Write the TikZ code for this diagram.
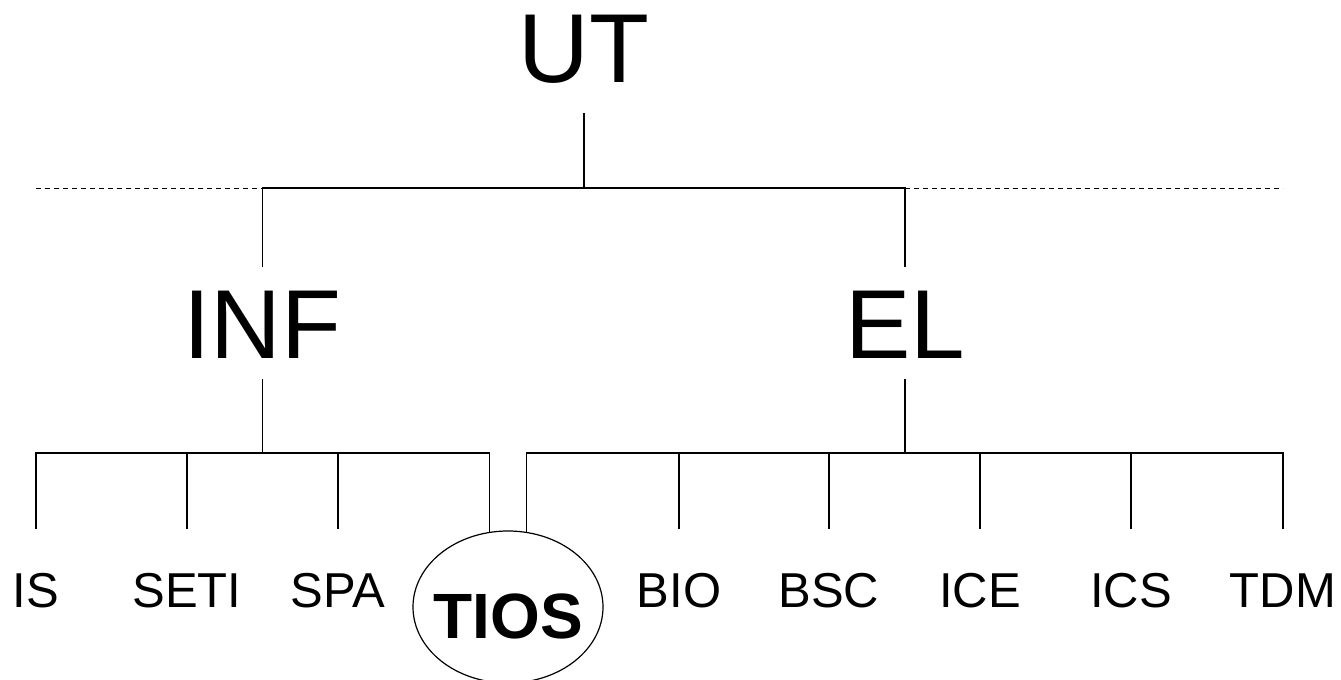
\documentclass[tikz,border=0pt]{standalone}
\usepackage{fontspec}
\setmainfont{Liberation Sans}
\usetikzlibrary{shapes}

\begin{document}
\begin{tikzpicture}[x=0.5pt,y=-0.5pt]
    \tikzstyle{every node}=[inner xsep=0pt,text depth=0pt]
    \tikzstyle{big}=[font=\fontsize{49}{49}\selectfont,text height=35pt,inner ysep=10.5pt,anchor=base]
    \tikzstyle{leaf}=[font=\fontsize{24.5}{24.5}\selectfont,text height=17.5pt,inner ysep=21.5pt,anchor=base]
    \tikzstyle{tios}=[ellipse,draw,line width=0.6pt,inner ysep=0pt,inner xsep=-3.8pt,minimum width=95pt,minimum height=76pt,text height=31pt,font=\bfseries\fontsize{32}{32}\selectfont]
    \tikzstyle{link}=[line width=0.75pt]
    \tikzstyle{guide}=[line width=0.5pt,dash pattern=on 2.5pt off 2pt]
    \useasboundingbox (0,0) rectangle (1341,680);
    \node[big,inner ysep=15pt] (UT) at (584,83) {UT};
    \node[big] (INF) at (262.5,358) {INF};
    \node[big] (EL) at (905,358) {EL};
    \foreach \name/\x in {IS/36,SETI/187,SPA/338,BIO/679,BSC/829,ICE/980,ICS/1131,TDM/1283}
      \node[leaf] (\name) at (\x,607) {\name};
    \node[tios] (TIOS) at (508,607) {TIOS};
    \coordinate (bus1) at (0,188);
    \coordinate (bus2) at (0,453);
    % top level
    \draw[link] (UT.south) -- (UT.south |- bus1);
    \draw[link] (INF.north) -- (INF.north |- bus1) -- (EL.north |- bus1) -- (EL.north);
    \draw[guide] (IS |- bus1) -- (INF |- bus1);
    \draw[guide] (EL |- bus1) -- (TDM |- bus1);
    % second level
    \draw[link] (INF.south) -- (INF.south |- bus2);
    \draw[link] (EL.south) -- (EL.south |- bus2);
    \draw[link] (IS.north) -- (IS.north |- bus2) -- (TIOS.104 |- bus2) -- (TIOS.104);
    \draw[link] (TIOS.76) -- (TIOS.76 |- bus2) -- (TDM.north |- bus2) -- (TDM.north);
    \foreach \c in {SETI,SPA,BIO,BSC,ICE,ICS}
      \draw[link] (\c.north) -- (\c.north |- bus2);
\end{tikzpicture}
\end{document}
